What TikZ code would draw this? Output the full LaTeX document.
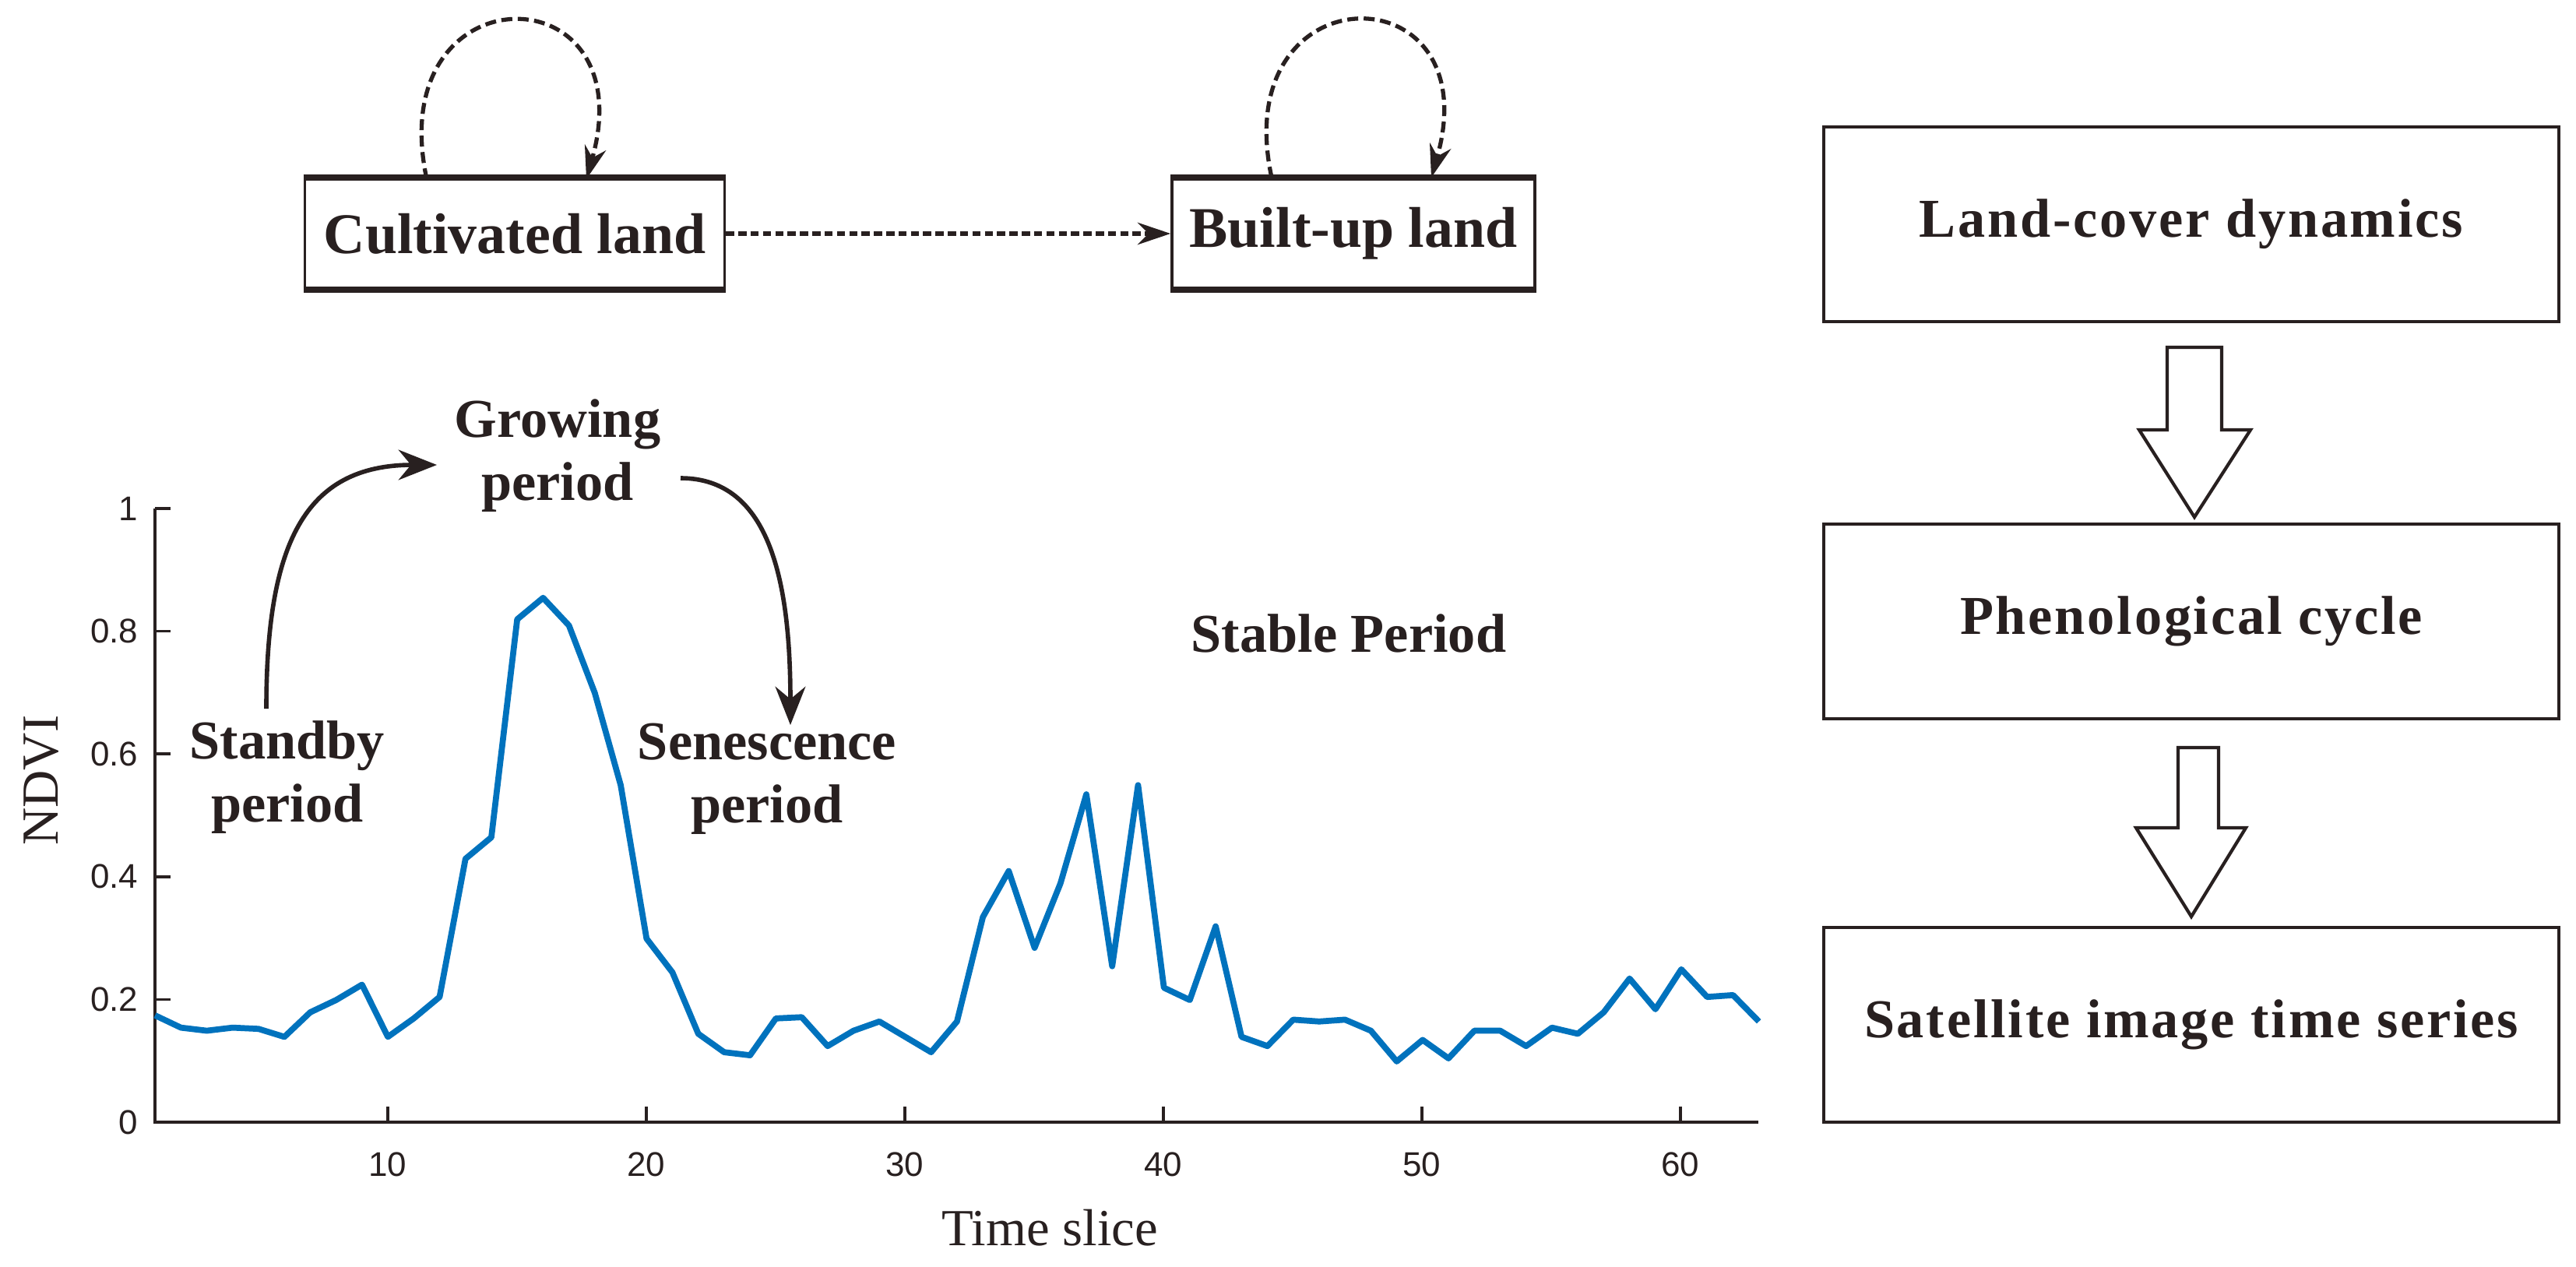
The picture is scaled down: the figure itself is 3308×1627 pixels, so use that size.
\documentclass[tikz,border=0pt]{standalone}
\usepackage{fontspec}
\setmainfont{Liberation Serif}
\newfontfamily\spaced[LetterSpace=4]{Liberation Serif}
\newfontfamily\helv{Liberation Sans}
\usetikzlibrary{arrows.meta}
\definecolor{mblue}{RGB}{0,114,189}
\definecolor{ink}{RGB}{40,32,32}
\tikzset{
  lbl/.style={font=\fontsize{20}{23}\selectfont\bfseries, text=ink, align=center, inner sep=0pt},
  topbox/.style={draw=ink, line width=1pt, minimum height=140*0.01cm, inner sep=0pt, font=\fontsize{21}{24}\selectfont\bfseries, text=ink},
  rbox/.style={draw=ink, line width=1.2pt, minimum width=944*0.01cm, minimum height=250*0.01cm, inner sep=0pt, font=\spaced\fontsize{20}{24}\selectfont\bfseries, text=ink},
  tick/.style={font=\helv\fontsize{12.5}{14}\selectfont, text=ink, inner sep=0pt},
  cur/.style={line width=1.6pt, draw=ink, -{Stealth[length=14pt,width=11pt]}},
  dsh/.style={line width=1.5pt, draw=ink, dash pattern=on 4pt off 2pt, -{Stealth[length=12pt,width=8pt]}},
  blk/.style={draw=ink, line width=1.2pt, fill=white}
}
\begin{document}
\begin{tikzpicture}[x=0.01cm,y=-0.01cm]
\useasboundingbox[fill=white] (0,0) rectangle (3308,1627);
% top boxes
\node[topbox, minimum width=539*0.01cm] (cl) at (661,300) {Cultivated land};
\node[topbox, minimum width=466*0.01cm] (bl) at (1738,300) {Built-up land};
\foreach \n in {cl,bl}{
  \draw[ink, line width=2.2pt] (\n.north west) -- (\n.north east);
  \draw[ink, line width=2.2pt] (\n.south west) -- (\n.south east);
}
\coordinate (cla) at (548,230); \coordinate (clb) at (753,230);
\coordinate (bla) at (1633,228); \coordinate (blb) at (1838,228);
\draw[dsh] (cla) .. controls (490,-40) and (830,-40) .. (clb);
\draw[dsh] (bla) .. controls (1575,-40) and (1915,-40) .. (blb);
\draw[dsh, line width=1.8pt, dash pattern=on 3pt off 1.5pt] (cl.east) -- (bl.west);
% right flow
\node[rbox] (lc) at (2814,288) {Land-cover dynamics};
\node[rbox] (pc) at (2814,798) {Phenological cycle};
\node[rbox] (ss) at (2814,1316) {Satellite image time series};
\draw[blk] (2783,446) -- (2853,446) -- (2853,552) -- (2890,552) -- (2818,664) -- (2747,552) -- (2783,552) -- cycle;
\draw[blk] (2797,960) -- (2849,960) -- (2849,1063) -- (2884,1063) -- (2814,1177) -- (2743,1063) -- (2797,1063) -- cycle;
% axes
\coordinate (o) at (199,1441);
\coordinate (xe) at (2258,1441);
\coordinate (ye) at (199,653);
\draw[ink, line width=1pt] (ye) -- (o) -- (xe);
\foreach \v/\t in {0/0,0.2/0.2,0.4/0.4,0.6/0.6,0.8/0.8,1/1}{
  \draw[ink, line width=1pt] (199,1441-788*\v) -- (219,1441-788*\v);
  \node[tick, anchor=east] at (178,1441-788*\v) {\t};
}
\foreach \v in {10,20,30,40,50,60}{
  \draw[ink, line width=1pt] (199+33.2*\v-33.2,1441) -- (199+33.2*\v-33.2,1421);
  \node[tick] at (199+33.2*\v-33.2,1495) {\v};
}
\node[font=\fontsize{19}{22}\selectfont, text=ink, rotate=90] (yl) at (53,1002) {NDVI};
\node[font=\fontsize{19}{22}\selectfont, text=ink] (xl) at (1348,1577) {Time slice};
% data
\begin{scope}[xshift=1.658cm, yshift=-14.41cm, x=0.332cm, y=7.88cm]
\draw[mblue, line width=2.2pt, line join=round] plot coordinates {
(1,0.175)(2,0.155)(3,0.15)(4,0.155)(5,0.153)(6,0.14)(7,0.18)(8,0.2)(9,0.225)(10,0.14)
(11,0.17)(12,0.205)(13,0.43)(14,0.465)(15,0.82)(16,0.855)(17,0.81)(18,0.7)(19,0.55)(20,0.3)
(21,0.245)(22,0.145)(23,0.115)(24,0.11)(25,0.17)(26,0.172)(27,0.125)(28,0.15)(29,0.165)(30,0.14)
(31,0.115)(32,0.165)(33,0.335)(34,0.41)(35,0.285)(36,0.39)(37,0.535)(38,0.255)(39,0.55)(40,0.22)
(41,0.2)(42,0.32)(43,0.14)(44,0.125)(45,0.168)(46,0.165)(47,0.168)(48,0.15)(49,0.1)(50,0.135)
(51,0.105)(52,0.15)(53,0.15)(54,0.125)(55,0.155)(56,0.145)(57,0.18)(58,0.235)(59,0.185)(60,0.25)
(61,0.205)(62,0.208)(63,0.165)};
\end{scope}
% labels
\node[lbl] (sb) at (369,998) {Standby\\period};
\node[lbl] (gp) at (716,585) {Growing\\period};
\node[lbl] (sn) at (985,1000) {Senescence\\period};
\node[lbl] (st) at (1732,813) {Stable Period};
\coordinate (a1) at (342,910); \coordinate (a2) at (561,597);
\coordinate (b1) at (874,614); \coordinate (b2) at (1015,931);
\draw[cur] (a1) .. controls (342,700) and (390,597) .. (a2);
\draw[cur] (b1) .. controls (990,614) and (1015,750) .. (b2);
\end{tikzpicture}
\end{document}
